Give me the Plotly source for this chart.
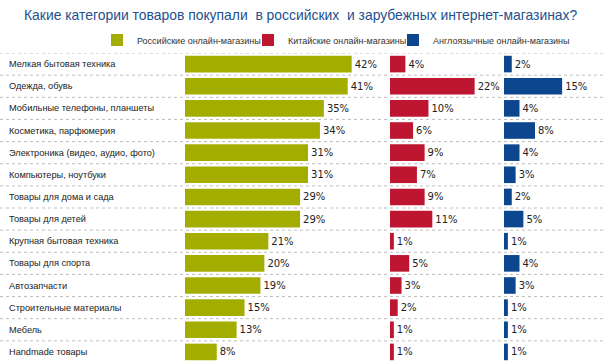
import plotly.graph_objects as go

categories = [
    "Мелкая бытовая техника",
    "Одежда, обувь",
    "Мобильные телефоны, планшеты",
    "Косметика, парфюмерия",
    "Электроника (видео, аудио, фото)",
    "Компьютеры, ноутбуки",
    "Товары для дома и сада",
    "Товары для детей",
    "Крупная бытовая техника",
    "Товары для спорта",
    "Автозапчасти",
    "Строительные материалы",
    "Мебель",
    "Handmade товары",
]
russian = [42, 41, 35, 34, 31, 31, 29, 29, 21, 20, 19, 15, 13, 8]
chinese = [4, 22, 10, 6, 9, 7, 9, 11, 1, 5, 3, 2, 1, 1]
english = [2, 15, 4, 8, 4, 3, 2, 5, 1, 4, 3, 1, 1, 1]
series_names = ["Российские онлайн-магазины", "Китайские онлайн-магазины", "Англоязычные онлайн-магазины"]
colors = ["#A2AD00", "#BE1530", "#0C468F"]
title_text = "Какие категории товаров покупали  в российских  и зарубежных интернет-магазинах?"

W, H = 604, 364
fig = go.Figure()
axes = ["x", "x2", "x3"]
legends = ["legend", "legend2", "legend3"]
for vals, name, col, ax, lg in zip([russian, chinese, english], series_names, colors, axes, legends):
    fig.add_trace(go.Bar(
        x=vals, y=categories, orientation="h", name=name, xaxis=ax, yaxis="y",
        legend=lg,
        marker=dict(color=col, line=dict(width=0)),
        texttemplate="%{x}%", textposition="outside", cliponaxis=False,
        constraintext="none", hoverinfo="skip",
        textfont=dict(family="DejaVu Sans", size=10, color="#222222"),
        width=0.75,
    ))

# dotted separators
shapes = []
for i in range(len(categories)):
    shapes.append(dict(type="line", xref="paper", x0=0, x1=1, yref="y", y0=i - 0.5, y1=i - 0.5,
                       line=dict(color="#BDBDBD", width=1, dash="dot"), layer="below"))

annotations = []
for c in categories:
    annotations.append(dict(x=7 / W, xref="paper", y=c, yref="y", text=c, showarrow=False,
                            xanchor="left", yanchor="middle",
                            font=dict(family="Liberation Sans", size=9.2, color="#222222")))

def xax(d0, d1, rmax):
    return dict(domain=[d0 / W, d1 / W], range=[0, rmax], showgrid=False, zeroline=False,
                showticklabels=False, ticks="", anchor="y", fixedrange=True)

def leg(x0):
    return dict(orientation="h", x=x0 / W, xanchor="left", y=1 - 40 / H, yanchor="middle",
                font=dict(family="Liberation Sans", size=9, color="#333333"),
                bgcolor="rgba(0,0,0,0)", itemwidth=30)

fig.update_layout(
    width=W, height=H, margin=dict(l=0, r=0, t=0, b=0),
    paper_bgcolor="white", plot_bgcolor="white",
    showlegend=True, hovermode=False,
    xaxis=xax(185, 385, 50.4),
    xaxis2=xax(390, 500, 28.6),
    xaxis3=xax(504, 604, 25.8),
    yaxis=dict(domain=[1 / H, 1 - 53 / H], range=[13.5, -0.5], type="category",
               categoryorder="array", categoryarray=categories, fixedrange=True,
               showgrid=False, zeroline=False, showticklabels=False, ticks=""),
    shapes=shapes, annotations=annotations,
    title=dict(text=title_text, xref="container", yref="container", x=24 / W, xanchor="left",
               y=1 - 15.5 / H, yanchor="middle",
               font=dict(family="Liberation Sans", size=13.9, color="#24508F")),
    legend=leg(97),
    legend2=leg(248),
    legend3=leg(393),
    bargap=0.25,
)

fig.write_html("out.html", config={"displayModeBar": False},
               post_script="document.body.style.margin='0';document.body.style.padding='0';")
